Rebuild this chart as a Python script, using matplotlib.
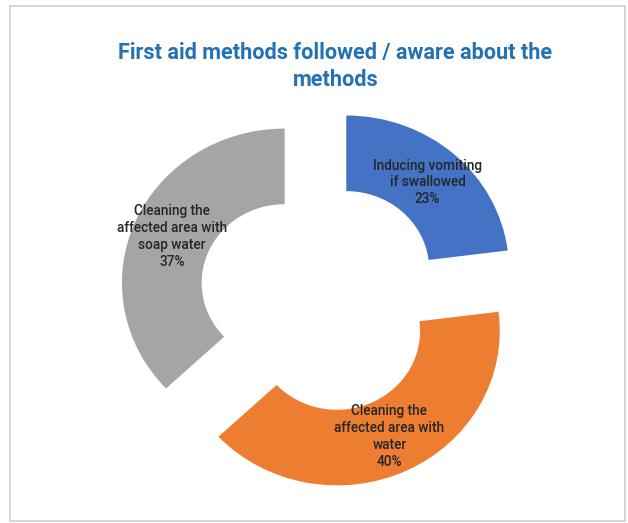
import numpy as np
import matplotlib
matplotlib.use("Agg")
import matplotlib.pyplot as plt
from matplotlib.patches import Rectangle

labels = ["Inducing vomiting\nif swallowed",
          "Cleaning the\naffected area with\nwater",
          "Cleaning the\naffected area with\nsoap water"]
values = [23, 40, 37]
colors = ["#4472C4", "#ED7D31", "#A5A5A5"]
title = "First aid methods followed / aware about the\nmethods"

plt.rcParams['font.family'] = ['Roboto', 'DejaVu Sans']

fig = plt.figure(figsize=(6.28, 5.23), dpi=100)
ax = fig.add_axes([0.1217, 0.018, 0.7772, 0.826])

ring = 0.49
wedges, _ = ax.pie(values, colors=colors, startangle=90, counterclock=False,
                   explode=[0.24] * len(values), radius=1.0,
                   wedgeprops=dict(width=ring, edgecolor='none'))

# stretched a little wider than tall
ax.set_aspect('auto')
ax.set_xlim(-1.5, 1.5)
ax.set_ylim(-1.4, 1.4)
ax.axis('off')

mid_r = 1.0 - ring / 2
for w, lab, v in zip(wedges, labels, values):
    ang = np.deg2rad((w.theta1 + w.theta2) / 2)
    cx, cy = w.center
    ax.text(cx + mid_r * np.cos(ang), cy + mid_r * np.sin(ang),
            f"{lab}\n{v}%", ha='center', va='center', fontsize=9.8,
            fontweight='medium', color='#262626', linespacing=1.25)

fig.text(0.534, 0.873, title, ha='center', va='center', fontsize=15.6,
         fontweight='bold', color='#2272B4', linespacing=1.25)

# chart frame
fig.patches.append(Rectangle((10 / 628, 2 / 523), 615 / 628, 515 / 523,
                             transform=fig.transFigure, fill=False,
                             edgecolor='#cfcfcf', linewidth=1.2))

fig.savefig("out.png", dpi=100, facecolor='white')
